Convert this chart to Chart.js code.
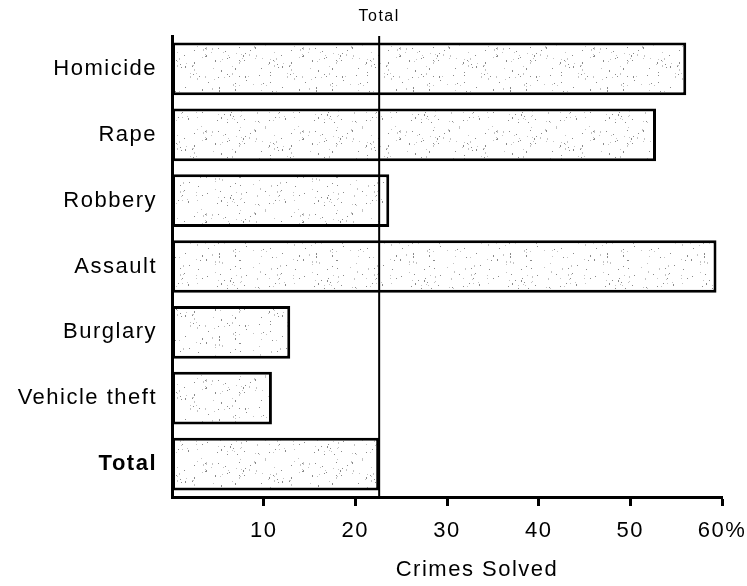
<!DOCTYPE html>
<html>
<head>
<meta charset="utf-8">
<script src="https://cdn.jsdelivr.net/npm/chart.js@4"></script>
<style>
  html, body { margin: 0; padding: 0; background: #fff; }
  #wrap { width: 747px; height: 586px; }
</style>
</head>
<body>
<div id="wrap"><canvas id="myChart"></canvas></div>
<script>
const categories = ['Homicide', 'Rape', 'Robbery', 'Assault', 'Burglary', 'Vehicle theft', 'Total'];
const solvedPct = [56.1, 52.8, 23.7, 59.4, 12.9, 10.9, 22.6];
const tickValues = [10, 20, 30, 40, 50, 60];
const refLabel = 'Total';
const axisTitle = 'Crimes Solved';

const FONT = '"Liberation Sans", Arial, sans-serif';

// light stipple fill like the printed original
function makeStipple() {
  const c = document.createElement('canvas');
  c.width = 97; c.height = 83;
  const g = c.getContext('2d');
  g.fillStyle = '#fff';
  g.fillRect(0, 0, c.width, c.height);
  let s = 12345;
  const rnd = () => { s = (s * 1103515245 + 12345) % 2147483648; return s / 2147483648; };
  for (let i = 0; i < 170; i++) {
    g.fillStyle = rnd() < 0.5 ? '#8a8a8a' : '#c4c4c4';
    g.fillRect(Math.floor(rnd() * c.width), Math.floor(rnd() * c.height), 1, rnd() < 0.3 ? 2 : 1);
  }
  return g.createPattern(c, 'repeat');
}

const spacing = {
  id: 'spacing',
  beforeDraw(chart) { chart.ctx.letterSpacing = '1.5px'; }
};

const totalLine = {
  id: 'totalLine',
  afterDatasetsDraw(chart) {
    const { ctx, chartArea, scales } = chart;
    const x = scales.x.getPixelForValue(solvedPct[solvedPct.length - 1]);
    ctx.save();
    ctx.strokeStyle = '#000';
    ctx.lineWidth = 2;
    ctx.beginPath();
    ctx.moveTo(x, chartArea.top);
    ctx.lineTo(x, chartArea.bottom);
    ctx.stroke();
    ctx.letterSpacing = '1.5px';
    ctx.fillStyle = '#000';
    ctx.font = '16px ' + FONT;
    ctx.textAlign = 'center';
    ctx.textBaseline = 'middle';
    ctx.fillText(refLabel, x, chartArea.top - 19);
    ctx.restore();
  },
  afterDraw(chart) {
    const { ctx, chartArea } = chart;
    ctx.save();
    ctx.letterSpacing = '1.5px';
    ctx.fillStyle = '#000';
    ctx.font = '22px ' + FONT;
    ctx.textAlign = 'center';
    ctx.textBaseline = 'middle';
    ctx.fillText(axisTitle, (chartArea.left + chartArea.right) / 2 + 30, chartArea.bottom + 73);
    ctx.restore();
  }
};

new Chart(document.getElementById('myChart'), {
  type: 'bar',
  data: {
    labels: categories,
    datasets: [{
      data: solvedPct,
      backgroundColor: makeStipple(),
      borderColor: '#000',
      borderWidth: 3,
      borderSkipped: false,
      barPercentage: 0.8,
      categoryPercentage: 1.0,
    }],
  },
  options: {
    indexAxis: 'y',
    responsive: true,
    maintainAspectRatio: false,
    animation: false,
    layout: { padding: { top: 36, right: 25, bottom: 0, left: 0 } },
    plugins: { legend: { display: false }, tooltip: { enabled: false } },
    scales: {
      x: {
        min: 0,
        max: 60,
        afterBuildTicks: (scale) => { scale.ticks = tickValues.map(v => ({ value: v })); },
        afterFit: (scale) => { scale.height = 89; scale.paddingRight = 0; scale.paddingLeft = 0; },
        grid: { drawOnChartArea: false, drawTicks: true, tickLength: 9, tickWidth: 3, color: '#000' },
        border: { display: true, width: 3, color: '#000' },
        ticks: {
          padding: 12,
          color: '#000',
          font: { family: FONT, size: 22 },
          maxRotation: 0,
          callback: (v) => (v === 60 ? v + '%' : v),
        },
      },
      y: {
        afterFit: (scale) => { scale.width = 172; },
        grid: { display: false, drawTicks: false },
        border: { display: true, width: 3, color: '#000' },
        ticks: {
          padding: 15,
          color: '#000',
          font: (c) => ({ family: FONT, size: 22, weight: c.index === categories.length - 1 ? 'bold' : 'normal' }),
        },
      },
    },
  },
  plugins: [spacing, totalLine],
});
</script>
</body>
</html>
